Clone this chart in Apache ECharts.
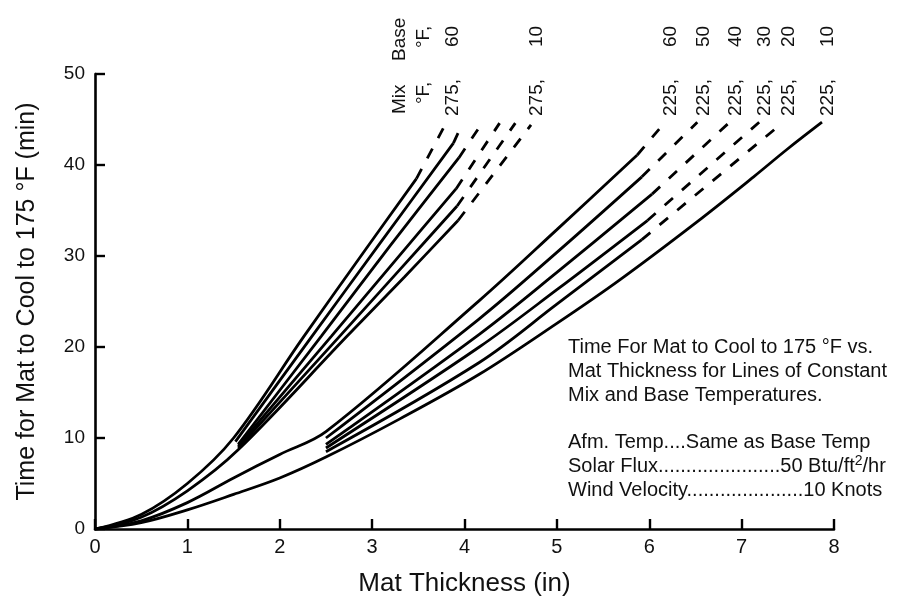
<!DOCTYPE html>
<html>
<head>
<meta charset="utf-8">
<script src="https://cdn.jsdelivr.net/npm/echarts@6/dist/echarts.min.js"></script>
<style>
  html, body { margin: 0; padding: 0; background: #fff; }
  #chart { width: 920px; height: 609px; }
</style>
</head>
<body>
<div id="chart"></div>
<script>
// mix 275 F, base 60 .. 10  (x: in, y: min)
const mix275base60 = [[0,0],[0.5,1.6],[1.0,5.0],[1.5,10.0],[2.25,21.0],[2.9,30.3],[3.48,38.5]];
const mix275base60Dash = [[3.48,38.5],[3.81,44.8]];
const mix275base50 = [[1.52,9.6],[2.35,21.2],[3.1,31.6],[3.88,42.4]];
const mix275base50Dash = [[3.88,42.4],[3.98,44.6]];
const mix275base40 = [[1.55,9.3],[2.45,21.2],[3.2,31.2],[3.94,40.8]];
const mix275base40Dash = [[3.94,40.8],[4.19,44.6]];
const mix275base30 = [[1.55,9.1],[2.56,21.2],[3.25,29.5],[3.91,37.4]];
const mix275base30Dash = [[3.91,37.4],[4.38,44.6]];
const mix275base20 = [[1.55,8.9],[2.65,21.2],[3.3,28.5],[3.92,35.5]];
const mix275base20Dash = [[3.92,35.5],[4.55,44.6]];
const mix275base10 = [[0,0],[0.5,1.3],[1.0,4.2],[1.55,8.7],[2.73,21.2],[3.35,27.7],[3.93,33.9]];
const mix275base10Dash = [[3.93,33.9],[4.72,44.4]];

// mix 225 F, base 60 .. 10
const mix225base60 = [[0,0],[0.5,0.9],[1.0,2.9],[1.5,5.6],[2.0,8.2],[2.5,10.7],[4.16,25.1],[5.0,32.9],[5.87,41.1]];
const mix225base60Dash = [[5.87,41.1],[6.17,44.7]];
const mix225base50 = [[2.5,10.0],[4.16,23.1],[5.0,30.4],[5.92,38.7]];
const mix225base50Dash = [[5.92,38.7],[6.52,44.7]];
const mix225base40 = [[2.5,9.3],[4.16,21.4],[5.0,28.2],[6.03,36.8]];
const mix225base40Dash = [[6.03,36.8],[6.87,44.7]];
const mix225base30 = [[2.5,8.9],[4.16,20.0],[5.0,26.3],[5.98,33.9]];
const mix225base30Dash = [[5.98,33.9],[7.19,44.7]];
const mix225base20 = [[2.5,8.5],[4.16,18.3],[5.0,24.7],[5.92,31.8]];
const mix225base20Dash = [[5.92,31.8],[7.45,44.7]];
const mix225base10 = [[0,0],[0.5,0.7],[1.0,2.1],[1.5,3.8],[2.0,5.6],[2.5,7.9],[3.3,12.1],[4.16,17.0],[5.0,22.6],[5.67,27.3],[6.51,33.7],[7.13,38.7],[7.49,41.7],[7.87,44.7]];

// labels over the curve ends
const mixLabels = ['275,', '275,', '225,', '225,', '225,', '225,', '225,', '225,'];
const baseLabels = ['60', '10', '60', '50', '40', '30', '20', '10'];
const labelledEnds = [mix275base60Dash, mix275base10Dash, mix225base60Dash, mix225base50Dash,
                      mix225base40Dash, mix225base30Dash, mix225base20Dash, mix225base10];

const curves = [
  [mix275base60, mix275base60Dash], [mix275base50, mix275base50Dash], [mix275base40, mix275base40Dash],
  [mix275base30, mix275base30Dash], [mix275base20, mix275base20Dash], [mix275base10, mix275base10Dash],
  [mix225base60, mix225base60Dash], [mix225base50, mix225base50Dash], [mix225base40, mix225base40Dash],
  [mix225base30, mix225base30Dash], [mix225base20, mix225base20Dash], [mix225base10, null]
];

const font = 'Liberation Sans';
const series = [];
curves.forEach(c => {
  series.push({
    type: 'line', data: c[0], showSymbol: false, smooth: 0.35,
    lineStyle: { color: '#000', width: 2.8 }, z: 3
  });
  if (c[1]) {
    series.push({
      type: 'line', data: c[1], showSymbol: false,
      lineStyle: { color: '#000', width: 2.8, type: [11, 12] }, z: 3
    });
  }
});

const chart = echarts.init(document.getElementById('chart'));
chart.setOption({
  animation: false,
  backgroundColor: '#fff',
  grid: { left: 95, right: 86, top: 74, bottom: 80 },
  xAxis: {
    type: 'value', min: 0, max: 8, interval: 1,
    name: 'Mat Thickness (in)', nameLocation: 'middle', nameGap: 42,
    nameTextStyle: { color: '#111', fontSize: 26, fontFamily: 'Liberation Sans Narrow, ' + font },
    axisLine: { lineStyle: { color: '#000', width: 2.6 } },
    axisTick: { inside: true, length: 10, lineStyle: { color: '#000', width: 2.4 } },
    axisLabel: { color: '#111', fontSize: 20, fontFamily: 'Liberation Sans Narrow, ' + font, margin: 8 },
    splitLine: { show: false }
  },
  yAxis: {
    type: 'value', min: 0, max: 50, interval: 10,
    name: 'Time for Mat to Cool to 175 °F (min)', nameLocation: 'middle', nameGap: 55,
    nameTextStyle: { color: '#111', fontSize: 25, fontFamily: font },
    axisLine: { lineStyle: { color: '#000', width: 2.6 } },
    axisTick: { inside: true, length: 10, lineStyle: { color: '#000', width: 2.4 } },
    axisLabel: { color: '#111', fontSize: 19, fontFamily: font, margin: 10 },
    splitLine: { show: false }
  },
  series: series
});

// rotated end labels and notes
const graphics = [];
const rotText = (text, x, y) => ({
  type: 'text', x: x, y: y, rotation: Math.PI / 2,
  style: { text: text, fill: '#111', fontSize: 19, fontFamily: font, align: 'left', verticalAlign: 'middle' }
});
labelledEnds.forEach((arr, i) => {
  const end = arr[arr.length - 1];
  const px = chart.convertToPixel({ gridIndex: 0 }, [end[0], 0])[0] + 6;
  graphics.push(rotText(mixLabels[i], px, 116));
  graphics.push(rotText(baseLabels[i], px, 47));
});
const firstCol = chart.convertToPixel({ gridIndex: 0 }, [mix275base60Dash[1][0], 0])[0] + 6;
graphics.push(rotText('Mix', firstCol - 53, 114));
graphics.push(rotText('Base', firstCol - 53, 61));
graphics.push(rotText('°F,', firstCol - 29, 104));
graphics.push(rotText('°F,', firstCol - 29, 48));

graphics.push({
  type: 'text', left: 568, top: 336,
  style: {
    text: 'Time For Mat to Cool to 175 °F vs.\nMat Thickness for Lines of Constant\nMix and Base Temperatures.\n\n' +
          'Afm. Temp....Same as Base Temp\nSolar Flux......................50 Btu/ft{sup|2}/hr\nWind Velocity.....................10 Knots',
    fill: '#111', fontSize: 20, fontFamily: font, lineHeight: 23.7,
    rich: { sup: { fontSize: 14, fontFamily: font, fill: '#111', verticalAlign: 'top', lineHeight: 14 } }
  }
});

chart.setOption({ graphic: graphics });
</script>
</body>
</html>
